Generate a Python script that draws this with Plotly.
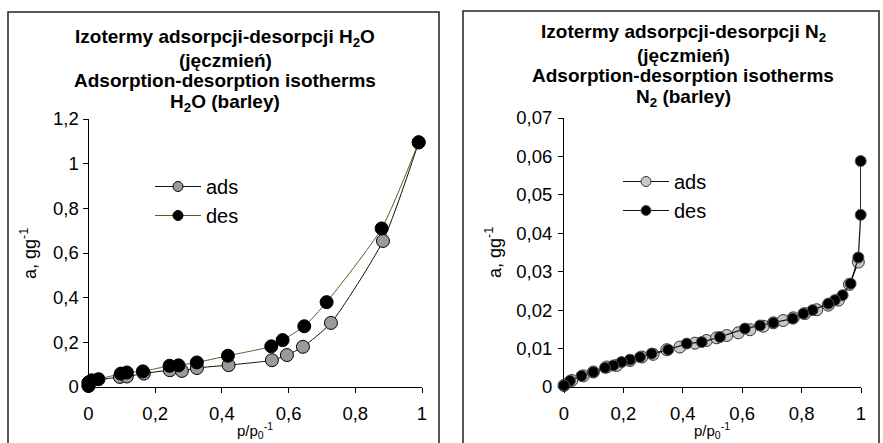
import plotly.graph_objects as go

W, H = 883, 443
def px(x): return x / W
def py(y): return 1 - y / H

FONT = "Liberation Sans, Arial, sans-serif"

# ---------------- data: H2O (left) ----------------
h2o_ads_x = [0.0, 0.0, 0.094, 0.115, 0.166, 0.244, 0.28, 0.325, 0.42, 0.55, 0.595, 0.643, 0.727, 0.883, 0.99]
h2o_ads_y = [0.005, 0.02, 0.045, 0.047, 0.06, 0.075, 0.072, 0.085, 0.098, 0.12, 0.143, 0.18, 0.287, 0.654, 1.095]
h2o_des_x = [0.99, 0.879, 0.714, 0.647, 0.582, 0.548, 0.418, 0.325, 0.27, 0.243, 0.163, 0.115, 0.097, 0.03, 0.01, 0.0, 0.0]
h2o_des_y = [1.096, 0.71, 0.38, 0.272, 0.21, 0.182, 0.14, 0.11, 0.097, 0.095, 0.07, 0.065, 0.06, 0.035, 0.03, 0.02, 0.005]

# ---------------- data: N2 (right) ----------------
n2_ads_x = [0.0, 0.026, 0.065, 0.099, 0.144, 0.177, 0.222, 0.262, 0.30, 0.346, 0.39, 0.441, 0.48, 0.514,
            0.548, 0.587, 0.626, 0.671, 0.705, 0.738, 0.772, 0.811, 0.851, 0.89, 0.924, 0.961, 0.991]
n2_ads_y = [0.0004, 0.0017, 0.0029, 0.0039, 0.0052, 0.0056, 0.0069, 0.0078, 0.0085, 0.0097, 0.0104, 0.0114,
            0.0121, 0.0128, 0.0134, 0.0141, 0.0149, 0.0158, 0.0167, 0.0173, 0.018, 0.0191, 0.0201, 0.0213,
            0.0226, 0.0267, 0.0325]
n2_des_x = [0.999, 0.999, 0.991, 0.965, 0.938, 0.912, 0.89, 0.837, 0.806, 0.77, 0.705, 0.66, 0.609, 0.525,
            0.464, 0.413, 0.351, 0.295, 0.256, 0.222, 0.194, 0.166, 0.138, 0.099, 0.059, 0.02, 0.0]
n2_des_y = [0.0588, 0.0448, 0.0337, 0.0269, 0.0239, 0.0226, 0.0217, 0.02, 0.0191, 0.0178, 0.0167, 0.016,
            0.0152, 0.013, 0.0117, 0.0113, 0.0097, 0.0087, 0.0078, 0.0071, 0.0065, 0.0056, 0.005, 0.0039,
            0.0029, 0.0016, 0.0004]

x_ticks = [0, 0.2, 0.4, 0.6, 0.8, 1]
x_ticktext = ["0", "0,2", "0,4", "0,6", "0,8", "1"]
h2o_yticks = [0, 0.2, 0.4, 0.6, 0.8, 1, 1.2]
h2o_yticktext = ["0", "0,2", "0,4", "0,6", "0,8", "1", "1,2"]
n2_yticks = [0, 0.01, 0.02, 0.03, 0.04, 0.05, 0.06, 0.07]
n2_yticktext = ["0", "0,01", "0,02", "0,03", "0,04", "0,05", "0,06", "0,07"]

title_left = ["Izotermy adsorpcji-desorpcji H<sub>2</sub>O", "(jęczmień)",
              "Adsorption-desorption isotherms", "H<sub>2</sub>O (barley)"]
title_right = ["Izotermy adsorpcji-desorpcji N<sub>2</sub>", "(jęczmień)",
               "Adsorption-desorption isotherms", "N<sub>2</sub> (barley)"]
series_names = ["ads", "des"]
y_title = "a, gg<sup>-1</sup>"
x_title = "p/p<sub>0</sub><sup>-1</sup>"

fig = go.Figure()

# left traces
fig.add_trace(go.Scatter(x=h2o_ads_x, y=h2o_ads_y, mode="lines+markers", showlegend=False,
                         line=dict(color="#111111", width=1, shape="spline", smoothing=0.6),
                         marker=dict(size=13, color="#9a9a9a", line=dict(color="#000", width=1)),
                         cliponaxis=False, xaxis="x", yaxis="y"))
fig.add_trace(go.Scatter(x=h2o_des_x, y=h2o_des_y, mode="lines+markers", showlegend=False,
                         line=dict(color="#5e5e22", width=1, shape="spline", smoothing=0.6),
                         marker=dict(size=13, color="#000000", line=dict(color="#000", width=1)),
                         cliponaxis=False, xaxis="x", yaxis="y"))
# right traces
fig.add_trace(go.Scatter(x=n2_ads_x, y=n2_ads_y, mode="lines+markers", showlegend=False,
                         line=dict(color="#111111", width=1.2),
                         marker=dict(size=12, color="#c8c8c8", line=dict(color="#333", width=1)),
                         cliponaxis=False, xaxis="x2", yaxis="y2"))
fig.add_trace(go.Scatter(x=n2_des_x, y=n2_des_y, mode="lines+markers", showlegend=False,
                         line=dict(color="#111111", width=1.2),
                         marker=dict(size=11, color="#000000", line=dict(color="#555", width=1)),
                         cliponaxis=False, xaxis="x2", yaxis="y2"))

# legend entries
fig.add_trace(go.Scatter(x=[None], y=[None], name=series_names[0], mode="lines+markers",
                         line=dict(color="#111", width=1), legend="legend",
                         marker=dict(size=10, color="#9a9a9a", line=dict(color="#000", width=1)),
                         xaxis="x", yaxis="y"))
fig.add_trace(go.Scatter(x=[None], y=[None], name=series_names[1], mode="lines+markers",
                         line=dict(color="#5e5e22", width=1), legend="legend",
                         marker=dict(size=10, color="#000", line=dict(color="#000", width=1)),
                         xaxis="x", yaxis="y"))
fig.add_trace(go.Scatter(x=[None], y=[None], name=series_names[0], mode="lines+markers",
                         line=dict(color="#111", width=1), legend="legend2",
                         marker=dict(size=10, color="#c8c8c8", line=dict(color="#333", width=1)),
                         xaxis="x2", yaxis="y2"))
fig.add_trace(go.Scatter(x=[None], y=[None], name=series_names[1], mode="lines+markers",
                         line=dict(color="#111", width=1), legend="legend2",
                         marker=dict(size=10, color="#000", line=dict(color="#555", width=1)),
                         xaxis="x2", yaxis="y2"))

axis_common = dict(showgrid=False, zeroline=False, showline=True, linecolor="#000", linewidth=1,
                   ticks="outside", ticklen=5, tickcolor="#000", tickwidth=1,
                   tickfont=dict(family=FONT, size=18.5, color="#000"), automargin=False, fixedrange=True)

fig.update_layout(
    width=W, height=H, margin=dict(l=0, r=0, t=0, b=0),
    paper_bgcolor="white", plot_bgcolor="white", autosize=False,
    xaxis=dict(domain=[px(88.5), px(422)], range=[0, 1], anchor="y",
               tickvals=x_ticks, ticktext=x_ticktext, ticklabelstandoff=5, **axis_common),
    yaxis=dict(domain=[py(387), py(119)], range=[0, 1.2], anchor="x",
               tickvals=h2o_yticks, ticktext=h2o_yticktext, ticklabelstandoff=0, **axis_common),
    xaxis2=dict(domain=[px(564), px(861)], range=[0, 1], anchor="y2",
                tickvals=x_ticks, ticktext=x_ticktext, ticklabelstandoff=5, **axis_common),
    yaxis2=dict(domain=[py(387), py(118)], range=[0, 0.07], anchor="x2",
                tickvals=n2_yticks, ticktext=n2_yticktext, ticklabelstandoff=2, **axis_common),
    legend=dict(x=px(150), y=py(167), xanchor="left", yanchor="top", bgcolor="rgba(0,0,0,0)",
                font=dict(family=FONT, size=20, color="#000"), itemwidth=46, traceorder="normal"),
    legend2=dict(x=px(618), y=py(162), xanchor="left", yanchor="top", bgcolor="rgba(0,0,0,0)",
                 font=dict(family=FONT, size=20, color="#000"), itemwidth=46, traceorder="normal"),
    showlegend=True,
)

annotations = []
for txt, yc in zip(title_left, [38, 61, 81, 103]):
    annotations.append(dict(text="<b>" + txt + "</b>", x=px(225), y=py(yc), xref="paper", yref="paper",
                            showarrow=False, xanchor="center", yanchor="middle",
                            font=dict(family=FONT, size=19, color="#000")))
for txt, yc in zip(title_right, [33, 55, 75, 98]):
    annotations.append(dict(text="<b>" + txt + "</b>", x=px(683), y=py(yc), xref="paper", yref="paper",
                            showarrow=False, xanchor="center", yanchor="middle",
                            font=dict(family=FONT, size=19, color="#000")))
for xc in [28, 493]:
    annotations.append(dict(text=y_title, x=px(xc), y=py(253), xref="paper", yref="paper", textangle=-90,
                            showarrow=False, xanchor="center", yanchor="middle",
                            font=dict(family=FONT, size=18, color="#000")))
for xc in [255, 712]:
    annotations.append(dict(text=x_title, x=px(xc), y=0, xref="paper", yref="paper",
                            showarrow=False, xanchor="center", yanchor="bottom",
                            font=dict(family=FONT, size=15, color="#000")))
fig.update_layout(annotations=annotations)

shapes = [
    dict(type="rect", xref="paper", yref="paper", x0=px(8), x1=px(439), y0=-0.2, y1=py(12),
         line=dict(color="#222", width=1.5), fillcolor="rgba(0,0,0,0)", layer="below"),
    dict(type="rect", xref="paper", yref="paper", x0=px(463), x1=px(879), y0=-0.2, y1=py(11),
         line=dict(color="#222", width=1.5), fillcolor="rgba(0,0,0,0)", layer="below"),
]
fig.update_layout(shapes=shapes)

fig.write_html("out.html")
